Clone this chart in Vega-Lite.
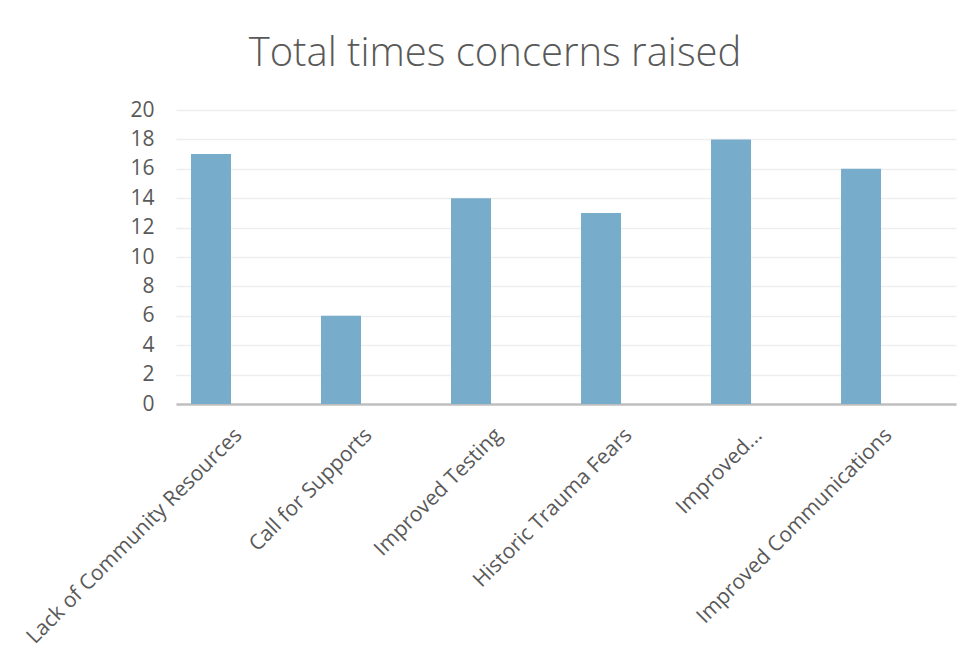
{
  "$schema": "https://vega.github.io/schema/vega-lite/v6.json",
  "width": 780,
  "height": 294,
  "autosize": {"type": "none"},
  "padding": {"left": 176, "top": 110, "right": 18, "bottom": 266},
  "background": "white",
  "title": {
    "text": "Total times concerns raised",
    "font": "Open Sans",
    "fontWeight": 300,
    "fontSize": 40,
    "color": "#595959",
    "anchor": "middle",
    "baseline": "alphabetic",
    "offset": -7,
    "dx": -71
  },
  "data": {
    "values": [
      {"concern": "Lack of Community Resources", "count": 17},
      {"concern": "Call for Supports", "count": 6},
      {"concern": "Improved Testing", "count": 14},
      {"concern": "Historic Trauma Fears", "count": 13},
      {"concern": "Improved...", "count": 18},
      {"concern": "Improved Communications", "count": 16}
    ]
  },
  "mark": {"type": "bar", "color": "#78accb"},
  "encoding": {
    "x": {
      "field": "concern",
      "type": "nominal",
      "sort": null,
      "scale": {"paddingInner": 0.6923, "paddingOuter": 0.346, "align": 0.1667},
      "axis": {
        "title": null,
        "labelAngle": -45,
        "labelFont": "Open Sans",
        "labelFontSize": 21,
        "labelColor": "#595959",
        "labelOffset": 20,
        "labelPadding": 20,
        "labelLimit": 0,
        "ticks": false,
        "domainColor": "#bfbfbf",
        "domainWidth": 2.5,
        "grid": false
      }
    },
    "y": {
      "field": "count",
      "type": "quantitative",
      "scale": {"domain": [0, 20]},
      "axis": {
        "title": null,
        "values": [0, 2, 4, 6, 8, 10, 12, 14, 16, 18, 20],
        "labelFont": "Open Sans",
        "labelFontSize": 21,
        "labelColor": "#595959",
        "labelPadding": 22,
        "ticks": false,
        "domain": false,
        "gridColor": "#eeeeee",
        "gridWidth": 1.5
      }
    }
  },
  "config": {"view": {"stroke": null}}
}
